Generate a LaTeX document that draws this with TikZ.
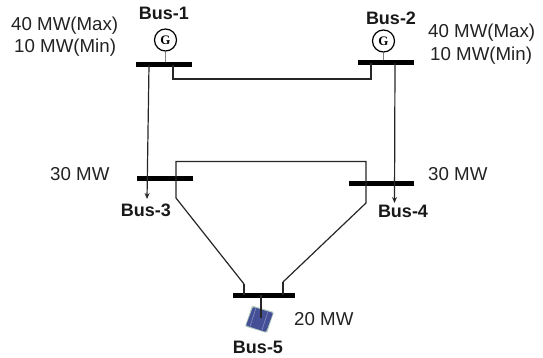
\documentclass[tikz,border=0pt]{standalone}
\usepackage{fontspec}
\setmainfont{Liberation Sans}
\definecolor{txt}{HTML}{222222}
\definecolor{panelA}{HTML}{444F96}
\definecolor{panelB}{HTML}{7C88C0}
\definecolor{panelE}{HTML}{B4CCC0}
\tikzset{
  busbar/.style={fill=black,draw=none,inner sep=0pt,minimum height=5pt},
  gen/.style={circle,draw=black,line width=1.2pt,fill=white,minimum size=22pt,inner sep=0pt,font=\fontspec{Liberation Serif}\bfseries\fontsize{13}{13}\selectfont},
  stem/.style={draw=black!50,line width=1pt},
  wire/.style={draw=black!85,line width=1.2pt},
  load/.style={wire,-{Stealth[length=6pt,width=5pt]}},
  lbl/.style={font=\fontsize{18.7}{20}\selectfont,text=txt,inner sep=0pt,align=left},
  buslbl/.style={font=\bfseries\fontsize{18}{20}\selectfont,text=black!90,inner sep=0pt},
}
\usetikzlibrary{arrows.meta}
\begin{document}
\begin{tikzpicture}[x=1pt,y=-1pt]
\useasboundingbox (0,0) rectangle (543,358);
% bus bars
\node[busbar,minimum width=56pt] (b1) at (163.5,65) {};
\node[busbar,minimum width=56pt] (b2) at (385.5,63) {};
\node[busbar,minimum width=56pt] (b3) at (164.5,179) {};
\node[busbar,minimum width=65pt] (b4) at (381,183.5) {};
\node[busbar,minimum width=62pt] (b5) at (263.5,295) {};
% generators
\node[gen] (g1) at (165.5,40) {G};
\node[gen] (g2) at (383.5,41) {G};
\draw[stem] (g1) -- (g1|-b1.north);
\draw[stem] (g2) -- (g2|-b2.north);
% free-end points
\coordinate (l3) at (147,199);
\coordinate (l4) at (394.5,203);
\coordinate (k3) at (176,198);
\coordinate (k4) at (366,203);
\coordinate (k5a) at (244,284);
\coordinate (k5b) at (283,282);
% solar panel
\fill[panelE,rounded corners=1pt] (252,305.5) -- (274,312) -- (267,333) -- (245,326.5) -- cycle;
\fill[panelA,rounded corners=1pt] (253,307) -- (273,313) -- (266,332) -- (246,325.5) -- cycle;
\draw[panelB,line width=.7pt] (256,308) -- (250,326.5) (268,311.5) -- (262,330);
\coordinate (pv) at (261,318);
% lines
\draw[wire] (173,65) -- (173,79) -| (371,63);
\draw[load] (149,65) -- (l3);
\draw[load] (395,63) -- (l4);
\draw[wire] (k5a) -- (k3) -- (176,161.5) -- (366,161.5) -- (k4) -- (k5b);
\draw[wire] (k5a) -- (k5a|-b5.center);
\draw[wire] (k5b) -- (k5b|-b5.center);
\draw[wire] (pv|-b5.center) -- (pv);
% labels
\node[buslbl,anchor=base] (n1) at (164,19.5) {Bus-1};
\node[buslbl,anchor=base] (n2) at (391,24.5) {Bus-2};
\node[buslbl,anchor=base] (n3) at (146,216) {Bus-3};
\node[buslbl,anchor=base] (n4) at (403,217.5) {Bus-4};
\node[buslbl,anchor=base] (n5) at (258,353) {Bus-5};
\node[lbl,anchor=base west] (p1) at (11,31) {40 MW(Max)};
\node[lbl,anchor=base west] (q1) at (14,53) {10 MW(Min)};
\node[lbl,anchor=base west] (p2) at (428,37.5) {40 MW(Max)};
\node[lbl,anchor=base west] (q2) at (430,60.5) {10 MW(Min)};
\node[lbl,anchor=base west] (c3) at (50,181) {30 MW};
\node[lbl,anchor=base west] (c4) at (428,181) {30 MW};
\node[lbl,anchor=base west] (c5) at (294,325) {20 MW};
\end{tikzpicture}
\end{document}
